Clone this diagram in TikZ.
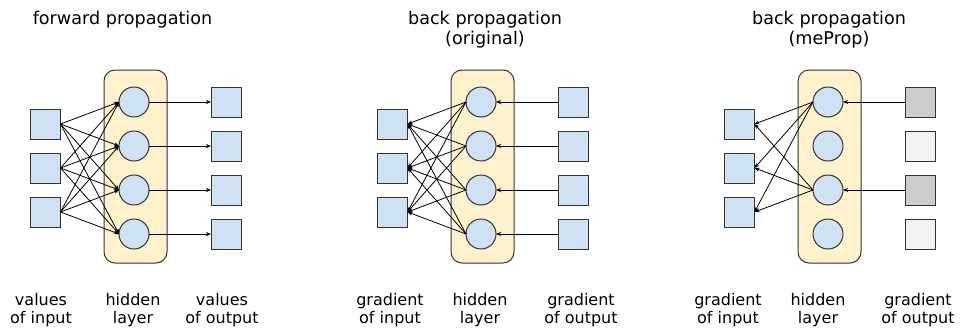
\documentclass[tikz,border=0pt]{standalone}
\usepackage{fontspec}
\setmainfont{DejaVu Sans}
\usetikzlibrary{arrows.meta}
\definecolor{cellblue}{HTML}{CFE2F3}
\definecolor{layerfill}{HTML}{FFF2CC}
\definecolor{edgegray}{HTML}{333333}
\definecolor{darkcell}{HTML}{CCCCCC}
\definecolor{lightcell}{HTML}{F2F2F2}
\tikzset{
  sq/.style={draw=edgegray, line width=1pt, fill=cellblue, minimum size=30pt, inner sep=0pt, outer sep=0pt},
  neuron/.style={circle, draw=edgegray, line width=1pt, fill=cellblue, minimum size=30pt, inner sep=0pt, outer sep=0pt},
  layer/.style={draw=edgegray, line width=1pt, fill=layerfill, rounded corners=11pt, minimum width=63pt, minimum height=193pt, inner sep=0pt},
  conn/.style={line width=0.8pt, -{Stealth[length=5pt,width=4pt]}},
  lbl/.style={align=center, anchor=base, inner sep=0pt, font=\fontsize{16}{18}\selectfont},
  ttl/.style={align=center, anchor=base, inner sep=0pt, font=\fontsize{17.6}{20}\selectfont},
}
\begin{document}
\begin{tikzpicture}[x=1pt, y=-1pt]
\useasboundingbox (0,0) rectangle (960,330);
% ---------- panel 1: forward
\node[ttl] (t1) at (122.5,24) {forward propagation};
\node[layer] (L1) at (135.5,166.5) {};
\foreach \i/\y in {1/124,2/168,3/212} \node[sq] (a\i) at (45.5,\y) {};
\foreach \j/\y in {1/102,2/146,3/190,4/234} {
  \node[neuron] (h\j) at (134,\y) {};
  \node[sq] (o\j) at (226,\y) {};
}
\foreach \i in {1,2,3} \foreach \j in {1,2,3,4} \draw[conn] (a\i.east) -- (h\j.west);
\foreach \j in {1,2,3,4} \draw[conn] (h\j.east) -- (o\j.west);
\node[lbl] (l1a) at (41,323) {values\\of input};
\node[lbl] (l1b) at (133,323) {hidden\\layer};
\node[lbl] (l1c) at (222,323) {values\\of output};
% ---------- panel 2: back original
\node[ttl] (t2) at (485,44) {back propagation\\(original)};
\node[layer] (L2) at (482.5,166.5) {};
\foreach \i/\y in {1/124,2/168,3/212} \node[sq] (b\i) at (392.5,\y) {};
\foreach \j/\y in {1/102,2/146,3/190,4/234} {
  \node[neuron] (g\j) at (481,\y) {};
  \node[sq] (p\j) at (573,\y) {};
}
\foreach \i in {1,2,3} \foreach \j in {1,2,3,4} \draw[conn] (g\j.west) -- (b\i.east);
\foreach \j in {1,2,3,4} \draw[conn] (p\j.west) -- (g\j.east);
\node[lbl] (l2a) at (390,323) {gradient\\of input};
\node[lbl] (l2b) at (480,323) {hidden\\layer};
\node[lbl] (l2c) at (581,323) {gradient\\of output};
% ---------- panel 3: meProp
\node[ttl] (t3) at (829,44) {back propagation\\(meProp)};
\node[layer] (L3) at (829.5,166.5) {};
\foreach \i/\y in {1/124,2/168,3/212} \node[sq] (c\i) at (739.5,\y) {};
\foreach \j/\y in {1/102,2/146,3/190,4/234} \node[neuron] (k\j) at (828,\y) {};
\node[sq, fill=darkcell] (q1) at (920,102) {};
\node[sq, fill=lightcell] (q2) at (920,146) {};
\node[sq, fill=darkcell] (q3) at (920,190) {};
\node[sq, fill=lightcell] (q4) at (920,234) {};
\foreach \i in {1,2,3} \foreach \j in {1,3} \draw[conn] (k\j.west) -- (c\i.east);
\foreach \j in {1,3} \draw[conn] (q\j.west) -- (k\j.east);
\node[lbl] (l3a) at (728,323) {gradient\\of input};
\node[lbl] (l3b) at (818,323) {hidden\\layer};
\node[lbl] (l3c) at (918,323) {gradient\\of output};
\end{tikzpicture}
\end{document}
